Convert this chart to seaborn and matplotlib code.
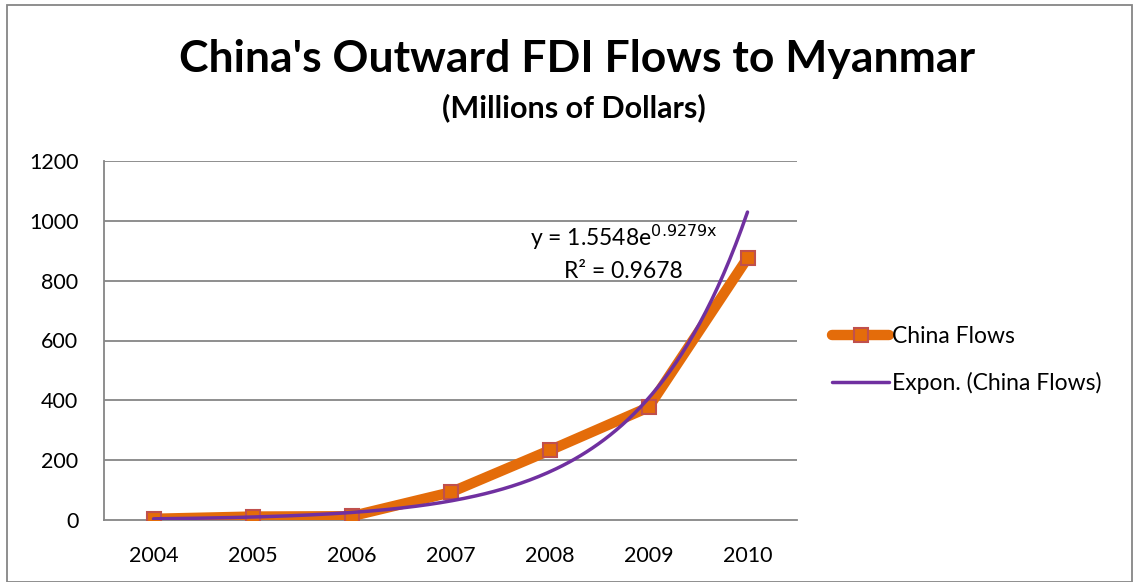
import numpy as np
import pandas as pd
import matplotlib
matplotlib.use("Agg")
import matplotlib.pyplot as plt
import seaborn as sns

# data
years = ["2004", "2005", "2006", "2007", "2008", "2009", "2010"]
china_flows = [4.09, 11.54, 12.64, 92.31, 232.53, 376.7, 875.61]
# Excel exponential trendline coefficients (shown on chart)
trend_a = 1.5548
trend_b = 0.9279
yticks = [0, 200, 400, 600, 800, 1000, 1200]

sns.set_style("white")
plt.rcParams["font.family"] = ["Lato", "DejaVu Sans"]
plt.rcParams["text.color"] = "black"
plt.rcParams["xtick.labelcolor"] = "black"
plt.rcParams["ytick.labelcolor"] = "black"

df = pd.DataFrame({"pos": np.arange(len(years)), "flows": china_flows})
xs = np.linspace(0, len(years) - 1, 200)
trend = pd.DataFrame({"pos": xs, "fit": trend_a * np.exp(trend_b * (xs + 1))})

fig = plt.figure(figsize=(11.35, 5.82), dpi=100)
ax = fig.add_axes([104 / 1135, 1 - 520 / 582, (797 - 104) / 1135, (520 - 161) / 582])

grid_c = "#868686"
for v in yticks[1:]:
    ax.axhline(v, color=grid_c, lw=1.3, zorder=0)

sns.lineplot(data=df, x="pos", y="flows", ax=ax, color="#E46C0A", lw=7.5,
             marker="s", markersize=10, markerfacecolor="#E46C0A",
             markeredgecolor="#C0504D", markeredgewidth=1.5,
             solid_capstyle="round", label="China Flows", zorder=3)
sns.lineplot(data=trend, x="pos", y="fit", ax=ax, color="#7030A0", lw=2.5,
             label="Expon. (China Flows)", zorder=4)

ax.set_xlim(-0.5, len(years) - 0.5)
ax.set_ylim(0, 1200)
ax.set_yticks(yticks)
ax.set_yticklabels([str(v) for v in yticks])
ax.set_xticks(np.arange(-0.5, len(years)), minor=False)
ax.set_xticklabels([])
ax.set_xticks(np.arange(len(years)), minor=True)
ax.set_xticklabels(years, minor=True)
ax.tick_params(axis="x", which="major", length=6, width=1.3, color=grid_c, direction="out")
ax.tick_params(axis="x", which="minor", length=0, pad=19, labelsize=15.5)
ax.tick_params(axis="y", length=6.5, width=1.3, color=grid_c, direction="out", pad=12, labelsize=15.5)
ax.set_xlabel("")
ax.set_ylabel("")
for s in ["top", "right"]:
    ax.spines[s].set_visible(False)
for s in ["left", "bottom"]:
    ax.spines[s].set_color(grid_c)
    ax.spines[s].set_linewidth(1.3)

ax.text(4.75, 946, r"y = 1.5548e$^{\mathrm{0.9279x}}$", fontsize=16.5, ha="center", va="center")
ax.text(4.75, 829, "R² = 0.9678", fontsize=16.5, ha="center", va="center")

ax.legend(loc="center left", bbox_to_anchor=(832 / 1135, 1 - 360 / 582),
          bbox_transform=fig.transFigure, frameon=False, borderpad=0, borderaxespad=0,
          fontsize=16.5, handlelength=2.5, handletextpad=0.1, labelspacing=1.1)

fig.text(0.508, 1 - 59 / 582, "China's Outward FDI Flows to Myanmar",
         fontsize=32, fontweight="bold", ha="center", va="center")
fig.text(0.506, 1 - 108 / 582, "(Millions of Dollars)",
         fontsize=22, fontweight="bold", ha="center", va="center")

fig.patches.append(plt.Rectangle((7 / 1135, 0), 1125 / 1135, 1 - 5 / 582,
                                 transform=fig.transFigure, fill=False,
                                 edgecolor="#868686", lw=1.3))

fig.savefig("out.png", dpi=100)
